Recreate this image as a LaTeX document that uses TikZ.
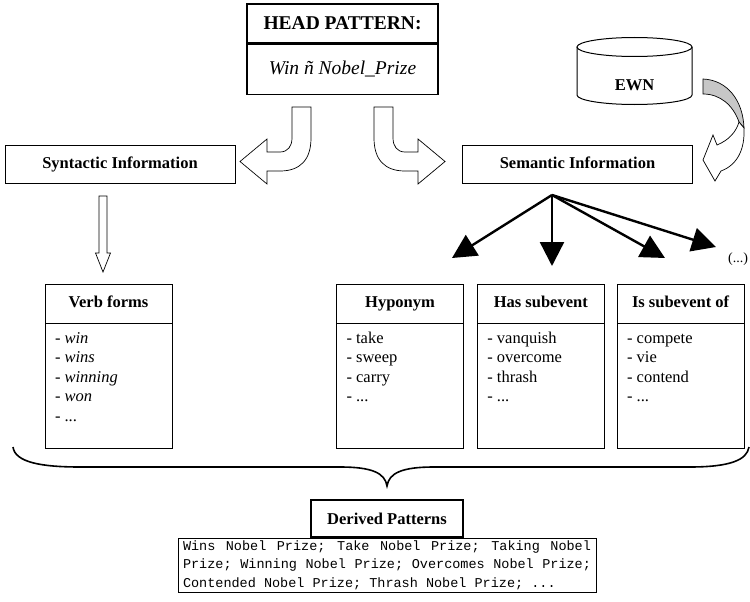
\documentclass[tikz,border=0pt]{standalone}
\usepackage{fontspec}
\setmainfont{Liberation Serif}
\setmonofont{Liberation Mono}
\usepackage{tikz}
\usetikzlibrary{arrows.meta,positioning}

\begin{document}
\begin{tikzpicture}[x=1pt, y=-1pt,
    headpart/.style={
        draw,
        line width=1.4pt,
        minimum width=191pt,
        inner sep=0pt
    },
    infobox/.style={
        draw,
        line width=0.8pt,
        minimum width=230pt,
        minimum height=38pt,
        text height=11.5pt,
        text depth=3.5pt,
        font=\bfseries\fontsize{16.5}{20}\selectfont
    },
    relhead/.style={
        draw,
        line width=0.8pt,
        minimum width=127pt,
        minimum height=39pt,
        inner sep=0pt,
        text height=11.5pt,
        text depth=3.5pt,
        font=\bfseries\fontsize{16.5}{20}\selectfont
    },
    relbody/.style={
        draw,
        line width=0.8pt,
        inner xsep=10pt,
        inner ysep=6pt,
        font=\fontsize{16.5}{19.5}\selectfont
    },
    blockarrow/.style={draw, line width=0.7pt, fill=white, line join=miter},
    fanarrow/.style={-{Triangle[length=24pt, width=24pt]}, line width=2.4pt}
]
    \useasboundingbox (0,0) rectangle (750,602);

    \node[headpart, minimum height=39pt, font=\bfseries\fontsize{19.5}{23}\selectfont] (headtitle) at (342.5,23.5) {HEAD PATTERN:};
    \node[headpart, minimum height=50pt, below=0pt of headtitle, font=\itshape\fontsize{19.5}{23}\selectfont] (headpattern) {Win ñ Nobel\_Prize};

    \node[infobox] (syntactic) at (120,164) {Syntactic Information};
    \node[infobox] (semantic) at (577.5,164) {Semantic Information};

    % EWN database
    \draw[line width=1pt] (634.5,47) ellipse [x radius=57.5pt, y radius=9.5pt];
    \draw[line width=1pt] (577,47) -- (577,95) arc[start angle=180, end angle=360, x radius=57.5pt, y radius=9.5pt] -- (692,47);
    \node[font=\bfseries\fontsize{16.5}{20}\selectfont] (ewn) at (634.5,85) {EWN};

    \draw[blockarrow] (292,107) -- (311,107) -- (311,138) .. controls (311,160) and (300,171) .. (280,171) -- (267,171) -- (267,184) -- (240,161.5) -- (267,139) -- (267,152) -- (280,152) .. controls (288,152) and (292,146) .. (292,138) -- cycle;
    \draw[blockarrow] (393,107) -- (374,107) -- (374,138) .. controls (374,160) and (385,171) .. (405,171) -- (418,171) -- (418,184) -- (445,161.5) -- (418,139) -- (418,152) -- (405,152) .. controls (397,152) and (393,146) .. (393,138) -- cycle;
    \draw[blockarrow, fill=black!22] (703,79) .. controls (727,80) and (743,100) .. (744,128) -- (739,122) .. controls (733,105) and (720,94) .. (703,94) -- cycle;
    \draw[blockarrow] (744,128) .. controls (745,150) and (737,165) .. (721,171) -- (715,181) -- (703,160) -- (713,135) -- (717,145) .. controls (729,140) and (736,132) .. (739,122) -- cycle;
    \draw[blockarrow] (99,196) -- (107,196) -- (107,253) -- (110.5,253) -- (103,272) -- (95.5,253) -- (99,253) -- cycle;

    \node[relhead] (verbhead) at (108.5,303.5) {Verb forms};
    \node[relbody, below=0pt of verbhead] (verblist) {\parbox[t][113pt][t]{107pt}{\strut- \textit{win}\\- \textit{wins}\\- \textit{winning}\\- \textit{won}\\- ...}};

    \node[relhead] (hyphead) at (400,303.5) {Hyponym};
    \node[relbody, below=0pt of hyphead] (hyplist) {\parbox[t][113pt][t]{107pt}{\strut- take\\- sweep\\- carry\\- ...}};
    \node[relhead, right=13pt of hyphead] (hashead) {Has subevent};
    \node[relbody, below=0pt of hashead] (haslist) {\parbox[t][113pt][t]{107pt}{\strut- vanquish\\- overcome\\- thrash\\- ...}};
    \node[relhead, right=12pt of hashead] (ishead) {Is subevent of};
    \node[relbody, below=0pt of ishead] (islist) {\parbox[t][113pt][t]{107pt}{\strut- compete\\- vie\\- contend\\- ...}};

    \node[font=\fontsize{14}{16}\selectfont] (more) at (738,259) {(...)};

    \coordinate (fan) at (552,195);
    \coordinate (hyptip) at (452,258);
    \coordinate (hastip) at (552,266);
    \coordinate (istip) at (665,258);
    \coordinate (moretip) at (716,247);
    \draw[fanarrow] (fan) -- (hyptip);
    \draw[fanarrow] (fan) -- (hastip);
    \draw[fanarrow] (fan) -- (istip);
    \draw[fanarrow] (fan) -- (moretip);

    % brace
    \draw[line width=1.6pt] (13,447) .. controls (15,462) and (40,467) .. (80,467) -- (340,467) .. controls (372,467) and (385,473) .. (387,486) .. controls (389,473) and (402,467) .. (434,467) -- (690,467) .. controls (730,467) and (747,460) .. (749,447);

    \node[draw, line width=1.5pt, minimum width=152pt, minimum height=37pt, font=\bfseries\fontsize{16.5}{20}\selectfont] (derived) at (387,518.5) {Derived Patterns};
    \node[draw, line width=0.6pt, below=0pt of derived, text width=408pt, align=justify, inner xsep=5pt, inner ysep=2.5pt,
        font=\ttfamily\fontsize{13.5}{18.5}\selectfont] (patterns)
        {\spaceskip=0.6em plus 1em\relax Wins Nobel Prize; Take Nobel Prize; Taking Nobel\linebreak Prize; Winning Nobel Prize; Overcomes Nobel Prize;\linebreak Contended Nobel Prize; Thrash Nobel Prize; ...};
\end{tikzpicture}
\end{document}
